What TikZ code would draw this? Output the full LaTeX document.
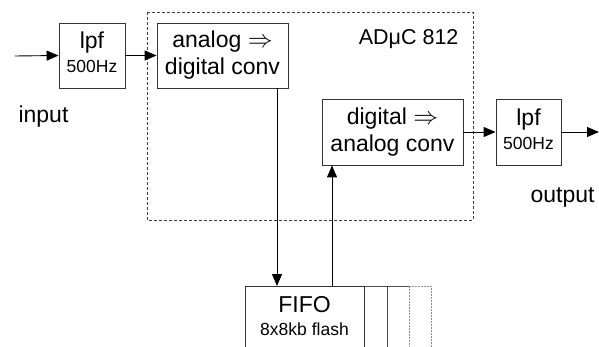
\documentclass[tikz,border=0pt]{standalone}
\usepackage{fontspec}
\setmainfont{Liberation Sans}
\usetikzlibrary{arrows.meta}
\tikzset{
  block/.style={draw=black!80, line width=0.9pt, fill=white, inner sep=0pt, align=center},
  big/.style={font=\fontsize{23}{27}\selectfont},
  small/.style={font=\fontsize{17.5}{20}\selectfont},
  wire/.style={line width=0.9pt, draw=black},
  arr/.style={wire, -{Triangle[length=12pt,width=10pt]}},
  chip/.style={draw=black!75, line width=0.8pt, dash pattern=on 3pt off 2pt},
  ghost/.style={draw=black!45, line width=0.9pt, dash pattern=on 1.5pt off 1.5pt},
}
\begin{document}
\begin{tikzpicture}[x=1pt, y=-1pt]
\useasboundingbox (0,0) rectangle (599,347);
\clip (0,0) rectangle (599,347);

% microcontroller boundary
\draw[chip] (147,12) rectangle (473,220);
\node[font=\fontsize{21.5}{25}\selectfont, anchor=base east] (chipname) at (462,45) {ADμC 812};

% signal path blocks
\node[block, minimum width=66pt, minimum height=65pt] (lpfa) at (92,55.5) {};
\node[big, anchor=base] (lpfalbl) at (92,49) {lpf};
\node[small, anchor=base] (lpfahz) at (92,73) {500Hz};

\node[block, minimum width=131pt, minimum height=65pt, big] (adc) at (222.5,55.5) {analog $\Rightarrow$\\digital conv};
\node[block, minimum width=141pt, minimum height=66pt, big] (dac) at (392.5,132) {digital $\Rightarrow$\\analog conv};

\node[block, minimum width=65pt, minimum height=66pt] (lpfb) at (528.5,132) {};
\node[big, anchor=base] (lpfblbl) at (528.5,126) {lpf};
\node[small, anchor=base] (lpfbhz) at (528.5,150) {500Hz};

% FIFO memory, open at the bottom edge
\draw[ghost] (409,286) -- (431,286) -- (431,360);
\draw[ghost] (409,286) -- (409,360);
\draw[wire, draw=black!70] (364,286) -- (409,286);
\draw[wire, draw=black!70] (387,286) -- (387,360);
\node[block, minimum width=119pt, minimum height=90pt, anchor=north west] (fifo) at (245,286) {};
\node[big, anchor=base] (fifolbl) at (304.5,312) {FIFO};
\node[small, anchor=base] (fifosub) at (304.5,335) {8x8kb flash};

% labels
\node[big, anchor=base west] (inlbl) at (15,123) {input};
\node[big, anchor=base west] (outlbl) at (527,203) {output};

% connectors
\coordinate (src) at (15,56);
\coordinate (sink) at (599,132);
\coordinate (fifoin) at (277,286);
\coordinate (fifoout) at (332,286);
\draw[arr] (src) -- (lpfa.west);
\draw[arr] (lpfa.east) -- (adc.west);
\draw[arr] (adc.south -| fifoin) -- (fifoin);
\draw[arr] (fifoout) -- (dac.south -| fifoout);
\draw[arr] (dac.east) -- (lpfb.west);
\draw[arr] (lpfb.east) -- (sink);
\end{tikzpicture}
\end{document}
